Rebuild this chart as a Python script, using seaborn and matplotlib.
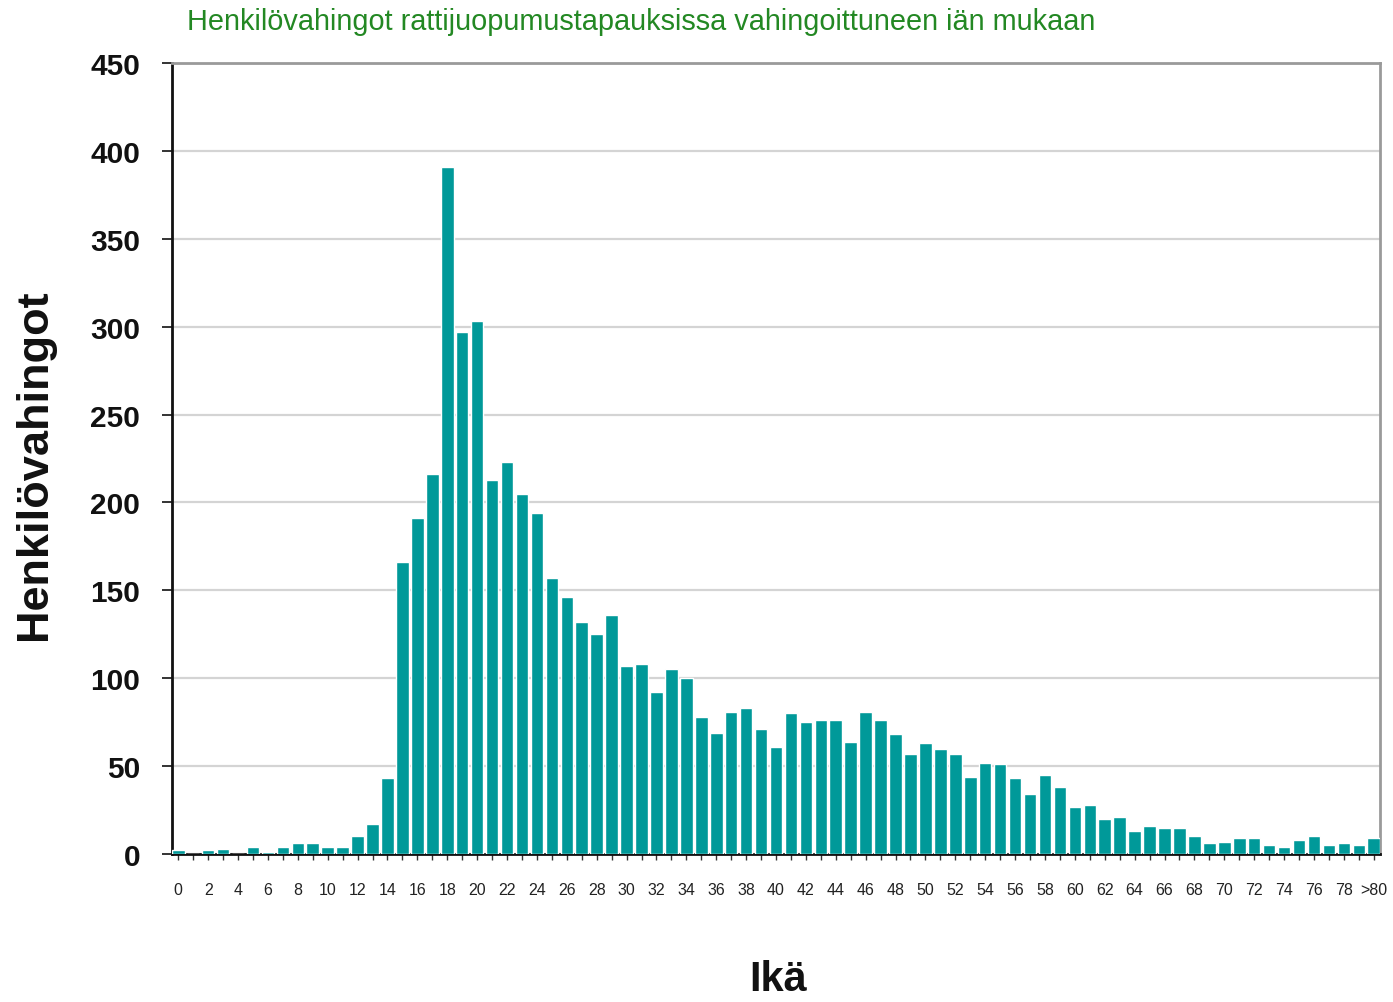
import matplotlib
matplotlib.use("Agg")
import matplotlib.pyplot as plt
import seaborn as sns
import pandas as pd

ages = [str(i) for i in range(80)] + [">80"]
injuries = [2, 0, 2, 3, 0, 4, 1, 4, 6, 6,
            4, 4, 10, 17, 43, 166, 191, 216, 391, 297,
            303, 213, 223, 205, 194, 157, 146, 132, 125, 136,
            107, 108, 92, 105, 100, 78, 69, 81, 83, 71,
            61, 80, 75, 76, 76, 64, 81, 76, 68, 57,
            63, 60, 57, 44, 52, 51, 43, 34, 45, 38,
            27, 28, 20, 21, 13, 16, 15, 15, 10, 6,
            7, 9, 9, 5, 4, 8, 10, 5, 6, 5, 9]
tick_labels = [a if (i % 2 == 0 or a == ">80") else "" for i, a in enumerate(ages)]
yticks = [0, 50, 100, 150, 200, 250, 300, 350, 400, 450]

title = "Henkilövahingot rattijuopumustapauksissa vahingoittuneen iän mukaan"
ylabel = "Henkilövahingot"
xlabel = "Ikä"

sns.set_theme(style="white")
plt.rcParams["font.family"] = ["Liberation Sans", "DejaVu Sans"]

df = pd.DataFrame({"age": ages, "n": injuries})

fig = plt.figure(figsize=(13.93, 10.03), dpi=100)
ax = fig.add_axes([172 / 1393, 1 - 855 / 1003, (1380 - 172) / 1393, (855 - 64) / 1003])

sns.barplot(data=df, x="age", y="n", order=ages, color="#009999", saturation=1,
            width=0.84, ax=ax, zorder=3)

ax.set_ylim(0, 450)
ax.set_xlim(-0.42, 80.42)
ax.set_yticks(yticks)
ax.set_yticklabels([str(v) for v in yticks], fontsize=21.5, fontweight="bold", color="#111111")
ax.set_xticks(range(len(ages)))
ax.set_xticklabels(tick_labels, fontsize=11.5, color="#222222")
ax.tick_params(axis="x", length=4, width=1, color="#333333", direction="out", pad=16, bottom=True)
ax.tick_params(axis="y", length=7, width=1.2, color="#111111", direction="out", pad=16, left=True)

ax.yaxis.grid(True, color="#d4d4d4", linewidth=1.6, zorder=0)
ax.set_axisbelow(True)

ax.spines["left"].set_color("#111111")
ax.spines["left"].set_linewidth(2)
ax.spines["bottom"].set_color("#111111")
ax.spines["bottom"].set_linewidth(2)
ax.spines["top"].set_color("#9a9a9a")
ax.spines["top"].set_linewidth(2)
ax.spines["right"].set_color("#9a9a9a")
ax.spines["right"].set_linewidth(2)

ax.set_xlabel("")
ax.set_ylabel("")
fig.text(35 / 1393, 1 - 465 / 1003, ylabel, rotation=90, ha="center", va="center",
         fontsize=32.5, fontweight="bold", color="#111111")
fig.text(778 / 1393, 1 - 980 / 1003, xlabel, ha="center", va="center",
         fontsize=30, fontweight="bold", color="#111111")
fig.text(187 / 1393, 1 - 22 / 1003, title, ha="left", va="center",
         fontsize=20.8, color="#238823")

fig.savefig("out.png", dpi=100)
